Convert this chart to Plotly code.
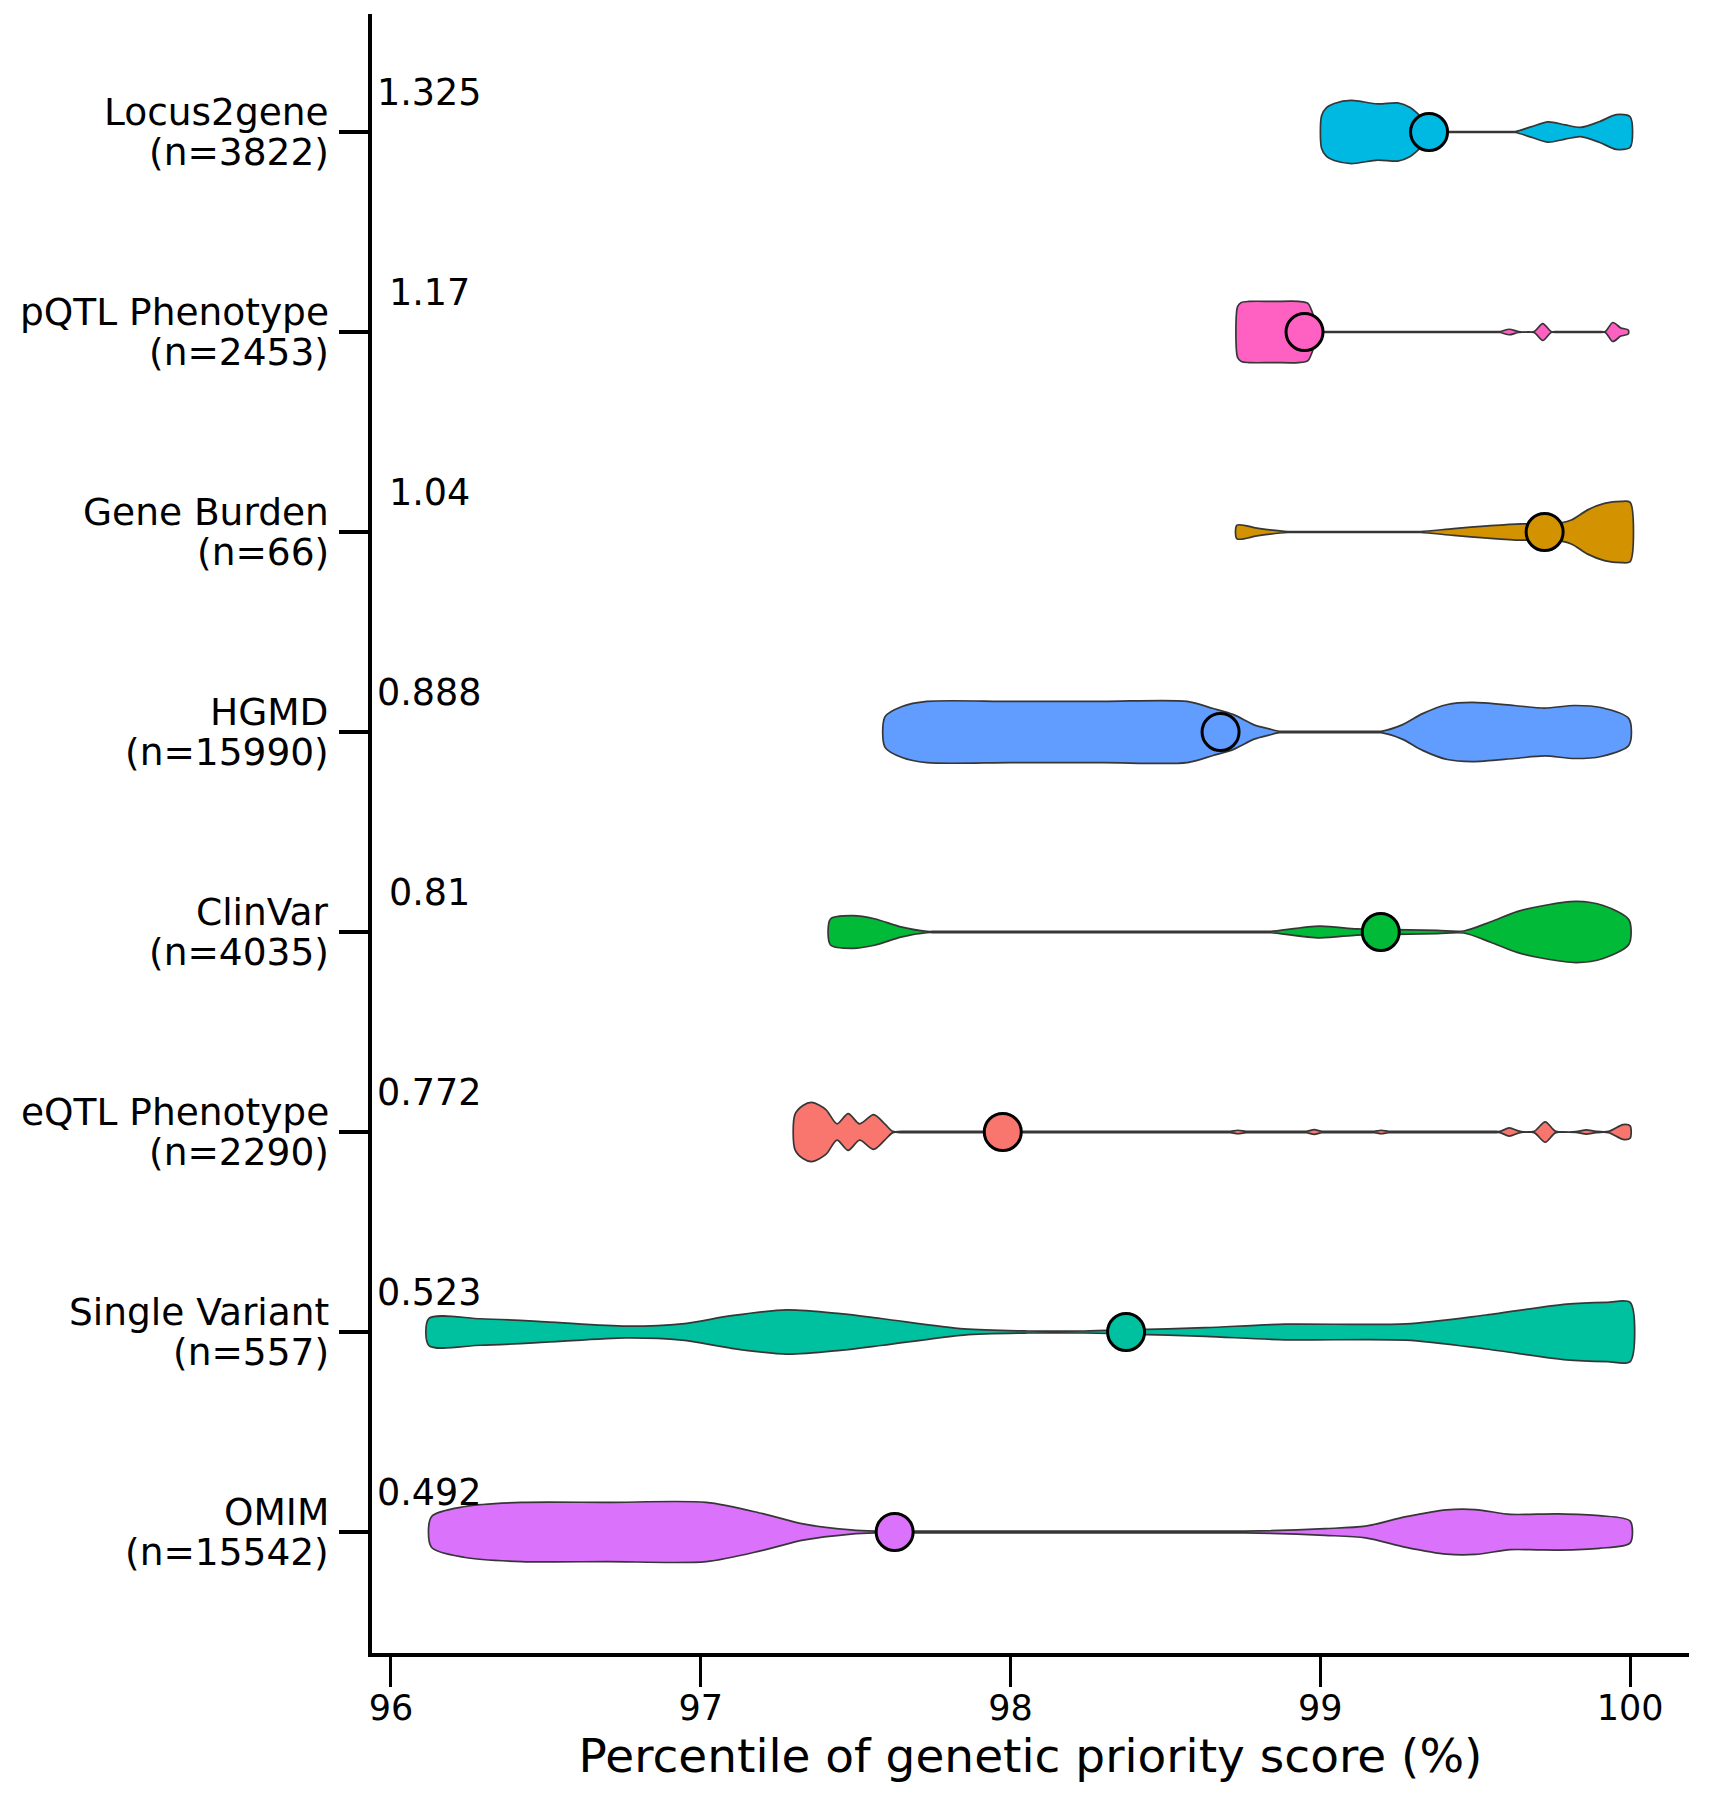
import plotly.graph_objects as go

# categories, top to bottom
names = ["Locus2gene", "pQTL Phenotype", "Gene Burden", "HGMD",
         "ClinVar", "eQTL Phenotype", "Single Variant", "OMIM"]
counts = [3822, 2453, 66, 15990, 4035, 2290, 557, 15542]
scores = ["1.325", "1.17", "1.04", "0.888", "0.81", "0.772", "0.523", "0.492"]
medians = [99.351, 98.949, 99.724, 98.678, 99.195, 97.975, 98.373, 97.626]
colors = ["#00B9E3", "#FF61C3", "#D39200", "#619CFF",
          "#00BA38", "#F8766D", "#00C19F", "#DB72FB"]

# violin profiles: percentile, density (half width)
l2g_x = [99.004, 99.02, 99.045, 99.10, 99.185, 99.25, 99.29, 99.325, 99.36, 99.40,
         99.42, 99.61, 99.63, 99.68, 99.735, 99.79, 99.84, 99.90, 99.955, 100.0]
l2g_d = [16, 24, 28, 31, 27.5, 28.5, 24, 15, 5, 0.5,
         0.5, 0.5, 0.5, 5, 10, 7, 4.5, 10, 17, 15]

pqtl_x = [98.733, 98.745, 98.77, 98.85, 98.93, 98.96, 98.985, 99.00, 99.02, 99.56,
          99.58, 99.61, 99.64, 99.69, 99.718, 99.745, 99.765, 99.90, 99.92, 99.944,
          99.97, 99.994]
pqtl_d = [25, 29, 30, 30, 30, 28, 10, 0.5, 0.5, 0.5,
          0.5, 2.7, 0.5, 0.5, 8.3, 0.5, 0.5, 0.5, 0.5, 9.3,
          4, 2]

gb_x = [98.731, 98.80, 98.895, 98.92, 99.30, 99.325, 99.43, 99.54, 99.648, 99.755,
        99.81, 99.863, 99.917, 99.97, 100.0]
gb_d = [6.7, 3.5, 0.5, 0.5, 0.5, 0.5, 3.3, 6, 8, 8,
        11.7, 21.7, 28, 30, 29]

hgmd_x = [97.595, 97.65, 97.73, 98.0, 98.3, 98.57, 98.654, 98.72, 98.786, 98.835,
          98.867, 98.89, 99.17, 99.196, 99.264, 99.33, 99.41, 99.49, 99.626, 99.724,
          99.82, 99.906, 99.996]
hgmd_d = [15, 25, 30, 30, 30, 30, 23, 17, 7, 3,
          0.7, 0.7, 0.7, 0.7, 7, 18, 27, 29, 26, 23.5,
          26, 24, 13]

clin_x = [97.419, 97.49, 97.561, 97.646, 97.73, 97.76, 98.81, 98.841, 98.997, 99.117,
          99.195, 99.377, 99.463, 99.55, 99.635, 99.722, 99.826, 99.913, 99.996]
clin_d = [12.7, 16, 13, 5, 0.6, 0.6, 0.6, 0.6, 5.7, 3,
          2.5, 1.5, 1, 10, 20, 26, 30, 26, 12]

eqtl_x = [97.304, 97.33, 97.359, 97.404, 97.44, 97.476, 97.513, 97.558, 97.594,
          97.62, 97.65, 98.68, 98.71, 98.734, 98.76, 98.78, 98.935, 98.955, 98.98,
          99.005, 99.025, 99.155, 99.175, 99.197, 99.22, 99.24, 99.56, 99.58, 99.61,
          99.645, 99.69, 99.726, 99.76, 99.83, 99.858, 99.89, 99.93, 99.977, 100.0]
eqtl_d = [17, 26, 29, 22, 8, 18, 8, 17, 8,
          0.6, 0.6, 0.6, 0.6, 1.7, 0.6, 0.6, 0.6, 0.6, 2.3,
          0.6, 0.6, 0.6, 0.6, 1.7, 0.6, 0.6, 0.6, 0.6, 4,
          0.6, 0.6, 10, 0.6, 0.6, 2, 0.6, 0.6, 7.3, 6]

sv_x = [96.123, 96.29, 96.5, 96.76, 96.94, 97.1, 97.278, 97.45, 97.588, 97.85,
        98.057, 98.237, 98.373, 98.628, 98.886, 99.276, 99.535, 99.795, 99.926, 100.0]
sv_d = [13.3, 13, 10, 5.7, 8, 16, 21.7, 18, 13, 3,
        1, 1, 2, 4.3, 7.7, 8, 16.7, 27.3, 29, 29]

omim_x = [96.131, 96.24, 96.42, 96.7, 97.018, 97.2, 97.33, 97.485, 97.563, 97.59,
          98.73, 98.757, 99.015, 99.146, 99.277, 99.407, 99.50, 99.613, 99.70, 99.77,
          99.9, 100.0]
omim_d = [15, 25, 29, 29, 29, 18, 8, 2, 0.8, 0.8,
          0.8, 0.8, 3.3, 5.7, 15, 21.7, 22, 17.3, 17.5, 17.7,
          16, 10.7]

profiles = [(l2g_x, l2g_d), (pqtl_x, pqtl_d), (gb_x, gb_d), (hgmd_x, hgmd_d),
            (clin_x, clin_d), (eqtl_x, eqtl_d), (sv_x, sv_d), (omim_x, omim_d)]

SCALE = 0.0051  # category units per density unit
n_cat = len(names)

fig = go.Figure()

for i, (px, pd_) in enumerate(profiles):
    yc = n_cat - 1 - i
    xs = list(px) + list(px[::-1]) + [px[0]]
    ys = ([yc + d * SCALE for d in pd_] + [yc - d * SCALE for d in pd_[::-1]]
          + [yc + pd_[0] * SCALE])
    fig.add_trace(go.Scatter(
        x=xs, y=ys, mode="lines", fill="toself", fillcolor=colors[i],
        line=dict(color="#363636", width=1.7, shape="spline", smoothing=0.8),
        hoverinfo="skip"))

for i in range(n_cat):
    yc = n_cat - 1 - i
    fig.add_trace(go.Scatter(
        x=[medians[i]], y=[yc], mode="markers",
        marker=dict(size=37, color=colors[i], line=dict(color="black", width=3))))
    # score above each row
    fig.add_annotation(x=96.126, y=yc + 0.2, text=scores[i], showarrow=False,
                       xanchor="center", yanchor="middle",
                       font=dict(size=36.5, color="black"))
    # two-line category label left of the axis
    fig.add_annotation(xref="paper", x=0, y=yc, yshift=20, xshift=-41,
                       text=names[i], showarrow=False, xanchor="right",
                       yanchor="middle", font=dict(size=37.5, color="black"))
    fig.add_annotation(xref="paper", x=0, y=yc, yshift=-20, xshift=-41,
                       text=f"(n={counts[i]})", showarrow=False, xanchor="right",
                       yanchor="middle", font=dict(size=37.5, color="black"))

fig.update_layout(
    width=1710, height=1800,
    margin=dict(l=364, r=29, t=6, b=155),
    plot_bgcolor="white", paper_bgcolor="white",
    showlegend=False,
    font=dict(family="DejaVu Sans", color="black"),
)
fig.update_xaxes(
    range=[95.939, 100.19], tickvals=[96, 97, 98, 99, 100],
    ticks="outside", ticklen=30, tickwidth=2.5, tickcolor="black",
    showline=True, linewidth=4, linecolor="black",
    showgrid=False, zeroline=False, tickfont=dict(size=35),
    ticklabelstandoff=-9,
    title=dict(text="Percentile of genetic priority score (%)",
               font=dict(size=47), standoff=4),
)
fig.update_yaxes(
    range=[-0.605, 7.59], tickvals=[n_cat - 1 - i for i in range(n_cat)],
    ticktext=["" for _ in range(n_cat)], ticks="outside", ticklen=29, tickwidth=3.5,
    tickcolor="black", showline=True, linewidth=3.5, linecolor="black",
    showgrid=False, zeroline=False,
)

fig.write_html("out.html")
